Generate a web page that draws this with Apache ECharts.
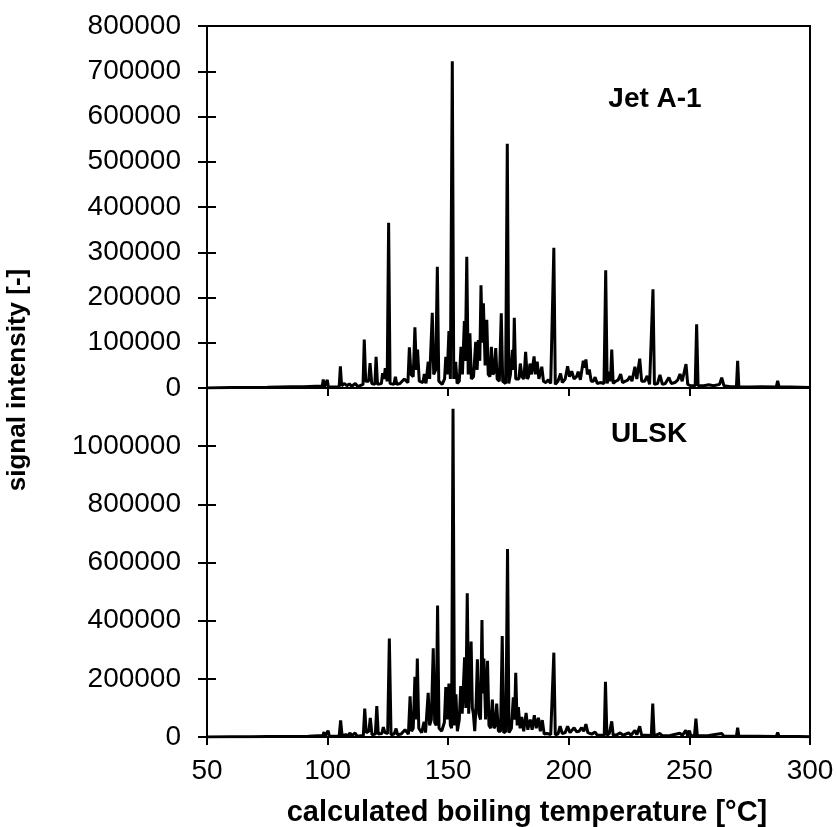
<!DOCTYPE html>
<html>
<head>
<meta charset="utf-8">
<script src="https://cdn.jsdelivr.net/npm/echarts@6/dist/echarts.min.js"></script>
<style>
  html, body { margin: 0; background: #fff; }
  #chart { width: 837px; height: 827px; }
</style>
</head>
<body>
<div id="chart"></div>
<script>
// [boiling temperature °C, signal intensity]
const jetA1 = [
  [50, 0], [60, 1000], [68.4, 1000], [68.7, 4000], [69.1, 1000], [75, 1500], [80, 2000], [85, 2500], [90, 3000], [95, 4000],
  [97.8, 4000], [98.2, 19000], [98.7, 3000], [99.9, 18000], [100.3, 2000],
  [104.8, 3000], [105.3, 48000], [105.8, 5000], [107, 10000], [108, 5000], [109, 9000], [110, 4000], [111.5, 10000], [112.5, 3000],
  [114.7, 8000], [115.2, 107000], [115.8, 15000], [117, 15000], [117.6, 55000], [118.3, 10000], [119.6, 8000], [120.1, 69000], [120.7, 8000],
  [122.3, 10000], [122.8, 33000], [123.4, 20000], [123.9, 44000], [124.7, 15000], [125.3, 365000], [125.9, 10000], [127.5, 8000], [128.1, 25000], [128.7, 8000],
  [130, 10000], [131.8, 20000], [133.3, 12000], [133.9, 90000], [134.6, 30000], [135.5, 25000], [136.2, 134000], [136.8, 40000], [137.3, 85000], [138, 15000],
  [139.5, 12000], [140.1, 31000], [140.8, 10000], [141.7, 58000], [142.3, 20000], [143.4, 166000], [144, 30000], [144.8, 40000], [145.5, 268000], [146.1, 15000],
  [147.5, 8000], [148.5, 20000], [149, 69000], [149.6, 30000], [150.3, 126000], [150.9, 20000], [151.7, 722000], [152.3, 20000], [153.1, 58000], [153.7, 10000],
  [154.6, 15000], [155.3, 91000], [155.9, 30000], [156.7, 148000], [157.1, 60000], [157.7, 290000], [158.3, 30000], [159, 121000], [159.6, 20000],
  [160.5, 25000], [161.4, 102000], [162, 40000], [162.5, 106000], [163.1, 60000], [163.6, 227000], [164.1, 100000], [164.6, 187000], [165.3, 50000],
  [166, 151000], [166.6, 30000], [167.3, 25000], [167.9, 91000], [168.5, 30000], [169.1, 35000], [169.7, 88000], [170.3, 20000], [171.2, 15000],
  [172, 165000], [172.6, 15000], [173.8, 10000], [174.5, 540000], [175.1, 10000], [175.8, 30000], [176.6, 84000], [177, 40000], [177.4, 155000], [178, 20000],
  [179.3, 20000], [179.9, 54000], [180.6, 25000], [181.4, 20000], [182.1, 80000], [182.8, 20000], [183.3, 25000], [183.9, 54000], [184.6, 30000],
  [185.6, 70000], [186.2, 30000], [186.9, 58000], [187.6, 20000], [188.8, 47000], [189.5, 15000], [190.5, 12000], [191.5, 18000], [192.5, 10000],
  [193.2, 12000], [193.8, 310000], [194.4, 8000], [195.5, 15000], [196.6, 32000], [197.3, 12000], [198.5, 20000], [199.5, 48000], [200.3, 25000],
  [201.2, 37000], [202.2, 20000], [203.2, 25000], [203.9, 36000], [204.8, 18000], [206, 60000], [206.5, 45000], [207.1, 63000], [207.7, 30000],
  [208.5, 41000], [209.3, 15000], [210.2, 15000], [210.9, 24000], [211.8, 10000], [213, 12000], [214.6, 10000], [215.3, 260000], [215.9, 10000],
  [216.8, 36000], [217.3, 15000], [217.8, 85000], [218.4, 10000], [219.5, 15000], [220.5, 18000], [221.5, 31000], [222.3, 12000], [223.5, 15000],
  [224.5, 18000], [225.4, 26000], [226.2, 15000], [227.4, 47000], [228.2, 20000], [229.4, 65000], [230.2, 15000], [231.5, 15000], [232.5, 27000],
  [233.5, 8000], [234.9, 218000], [235.5, 8000], [236.8, 10000], [237.8, 29000], [238.8, 8000], [240, 10000], [241.5, 23000], [242.5, 10000],
  [244, 12000], [245.2, 18000], [246.1, 31000], [247, 15000], [248.6, 53000], [249.3, 8000], [250.5, 5000], [252.4, 5000], [253, 141000], [253.6, 5000],
  [256, 5000], [258, 7000], [260, 5000], [262.5, 8000], [263.4, 23000], [264.3, 5000], [267, 3000], [269.5, 3000], [270, 60000], [270.5, 3000],
  [275, 2000], [280, 3000], [286, 2000], [286.6, 16000], [287.2, 2000], [292, 2000], [300, 1000]
];

const ulsk = [
  [50, 0], [60, 1000], [68.4, 1000], [68.7, 3000], [69.1, 1000], [75, 1500], [85, 2000], [92, 3000], [96, 4000],
  [98, 4000], [98.5, 17000], [99, 3000], [99.8, 4000], [100.2, 22000], [100.7, 3000],
  [104.8, 3000], [105.4, 57000], [106, 5000], [107.5, 8000], [108.5, 5000], [109.3, 14000], [110, 4000], [111.4, 14000], [112.2, 3000],
  [114.8, 5000], [115.4, 98000], [116, 15000], [117.1, 20000], [117.7, 66000], [118.4, 8000], [119.8, 10000], [120.4, 106000], [121, 10000],
  [122.5, 12000], [123.1, 34000], [123.8, 15000], [124.9, 12000], [125.6, 339000], [126.3, 8000], [127.6, 10000], [128.4, 29000], [129, 8000],
  [130.5, 10000], [132.1, 25000], [133.5, 10000], [134.2, 140000], [134.8, 20000], [135.5, 30000], [136.2, 207000], [136.7, 60000], [137.2, 270000], [137.8, 30000],
  [139, 15000], [140, 52000], [140.6, 15000], [141.7, 152000], [142.3, 40000], [143, 60000], [143.8, 305000], [144.4, 50000], [145, 40000], [145.6, 452000], [146.2, 30000],
  [147.3, 20000], [148.4, 50000], [149, 172000], [149.6, 60000], [150.3, 184000], [150.9, 40000], [151.4, 30000], [152, 1129000], [152.6, 40000],
  [153.2, 147000], [153.8, 20000], [154.6, 60000], [155.2, 175000], [155.8, 80000], [156.8, 274000], [157.3, 100000], [157.9, 494000], [158.5, 80000],
  [159.5, 328000], [160, 100000], [160.4, 82000], [161, 20000], [161.6, 120000], [162.1, 267000], [162.7, 80000], [163.4, 60000], [164, 402000],
  [164.4, 150000], [164.8, 270000], [165.5, 60000], [166.3, 262000], [166.9, 40000], [167.6, 30000], [168.3, 129000], [169, 30000], [169.6, 40000],
  [170.1, 115000], [170.8, 20000], [171.7, 20000], [172.4, 347000], [173, 15000], [173.9, 20000], [174.6, 646000], [175.2, 15000], [176.2, 30000],
  [177, 136000], [177.5, 60000], [178, 221000], [178.6, 40000], [179.1, 103000], [179.8, 30000], [180.5, 69000], [181.3, 20000], [182.3, 83000],
  [183, 25000], [184, 60000], [184.8, 25000], [185.7, 75000], [186.5, 30000], [187.4, 66000], [188.2, 20000], [189, 58000], [189.8, 10000],
  [191, 12000], [192.5, 8000], [193.2, 8000], [193.8, 290000], [194.4, 8000], [195.5, 10000], [196.4, 37000], [197.3, 12000], [198.5, 15000],
  [199.5, 37000], [200.5, 15000], [201.3, 20000], [202.2, 32000], [203.2, 18000], [204.3, 20000], [205.3, 32000], [206.2, 20000], [207.1, 44000],
  [207.9, 15000], [209.5, 10000], [210.9, 17000], [211.8, 6000], [213.5, 6000], [214.7, 6000], [215.2, 190000], [215.8, 6000], [216.8, 12000],
  [217.8, 54000], [218.4, 6000], [220, 8000], [221.3, 14000], [222.5, 6000], [224.8, 14000], [225.8, 6000], [227.4, 23000], [228.2, 8000],
  [229.4, 37000], [230.2, 6000], [232, 6000], [234.2, 5000], [234.8, 115000], [235.4, 4000], [237.8, 12000], [238.8, 4000], [242, 5000],
  [246.1, 13000], [247, 5000], [248.5, 23000], [249.2, 5000], [250, 22000], [250.6, 4000], [252.1, 4000], [252.7, 63000], [253.3, 4000],
  [258, 5000], [263.4, 12000], [264.3, 3000], [269.5, 3000], [270, 32000], [270.5, 3000], [278, 3000], [286, 2000], [286.6, 15000], [287.2, 2000],
  [295, 1500], [300, 1000]
];

const xRange = [50, 300, 50];          // min, max, step
const topRange = [0, 800000, 100000];
const bottomRange = [0, 1200000, 200000];
const panelNames = ['Jet A-1', 'ULSK'];

const font = 'Liberation Sans, Arial, sans-serif';
const black = '#000';

const chart = echarts.init(document.getElementById('chart'), null, { renderer: 'canvas' });

const topRect = { left: 207, right: 27, top: 26, height: 362 };
const bottomRect = { left: 207, right: 27, top: 388, height: 349 };

function xAxisOf(gridIndex, showLabel, hidden) {
  return {
    gridIndex: gridIndex,
    show: !hidden,
    type: 'value',
    min: xRange[0], max: xRange[1], interval: xRange[2],
    axisLine: { show: true, onZero: false, lineStyle: { color: black, width: 2 } },
    axisTick: { show: true, length: 8, lineStyle: { color: black, width: 2 } },
    axisLabel: { show: showLabel, margin: 20, fontSize: 28, color: black, fontFamily: font },
    splitLine: { show: false }
  };
}

function yAxisOf(gridIndex, range, showMax, inside) {
  return {
    gridIndex: gridIndex,
    type: 'value',
    min: range[0], max: range[1], interval: range[2],
    axisLine: { show: !inside, onZero: false, lineStyle: { color: black, width: 2 } },
    axisTick: { show: true, inside: inside, length: 9, lineStyle: { color: black, width: 2 } },
    axisLabel: {
      show: !inside, margin: 26, fontSize: 28, color: black, fontFamily: font, showMaxLabel: showMax,
      formatter: function (v) { return String(v); }
    },
    splitLine: { show: false }
  };
}

const option = {
  animation: false,
  backgroundColor: '#fff',
  grid: [
    Object.assign({ show: true, borderColor: black, borderWidth: 2 }, topRect),
    Object.assign({ show: true, borderColor: black, borderWidth: 2 }, bottomRect),
    // copies of the panels, only for the inward half of the y ticks
    Object.assign({}, topRect),
    Object.assign({}, bottomRect)
  ],
  xAxis: [xAxisOf(0, false, false), xAxisOf(1, true, false), xAxisOf(2, false, true), xAxisOf(3, false, true)],
  yAxis: [
    yAxisOf(0, topRange, true, false),
    yAxisOf(1, bottomRange, false, false),
    yAxisOf(2, topRange, true, true),
    yAxisOf(3, bottomRange, false, true)
  ],
  series: [
    {
      name: panelNames[0], type: 'line', xAxisIndex: 0, yAxisIndex: 0,
      data: jetA1, showSymbol: false, symbol: 'none',
      lineStyle: { color: black, width: 3 }
    },
    {
      name: panelNames[1], type: 'line', xAxisIndex: 1, yAxisIndex: 1,
      data: ulsk, showSymbol: false, symbol: 'none',
      lineStyle: { color: black, width: 3 }
    }
  ],
  graphic: [
    { type: 'text', x: 655, y: 99, style: { text: panelNames[0], font: 'bold 28px ' + font, fill: black, textAlign: 'center', textVerticalAlign: 'middle' } },
    { type: 'text', x: 649, y: 434, style: { text: panelNames[1], font: 'bold 28px ' + font, fill: black, textAlign: 'center', textVerticalAlign: 'middle' } },
    { type: 'text', x: 527, y: 813, style: { text: 'calculated boiling temperature [°C]', font: 'bold 29px ' + font, fill: black, textAlign: 'center', textVerticalAlign: 'middle' } },
    { type: 'text', x: 18, y: 380, rotation: Math.PI / 2, style: { text: 'signal intensity [-]', font: 'bold 26px ' + font, fill: black, textAlign: 'center', textVerticalAlign: 'middle' } }
  ]
};

chart.setOption(option);
</script>
</body>
</html>
